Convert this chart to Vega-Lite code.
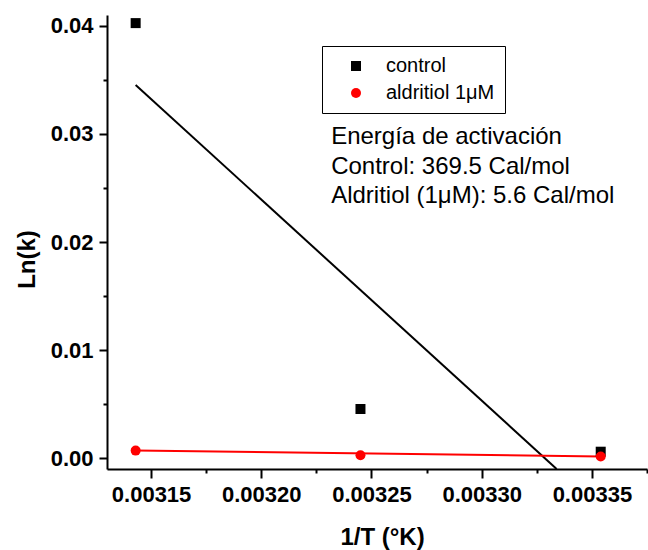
{
  "$schema": "https://vega.github.io/schema/vega-lite/v6.json",
  "width": 540,
  "height": 454,
  "autosize": "none",
  "padding": {"left": 107, "top": 15, "right": 1, "bottom": 81},
  "background": "white",
  "config": {
    "view": {"stroke": null},
    "font": "Liberation Sans",
    "axis": {
      "grid": false,
      "domainColor": "black",
      "domainWidth": 2,
      "tickColor": "black",
      "tickWidth": 2,
      "labelColor": "black",
      "labelFont": "Liberation Sans",
      "labelFontWeight": "bold",
      "labelFontSize": 22,
      "titleFont": "Liberation Sans",
      "titleFontWeight": "bold",
      "titleFontSize": 24,
      "titleColor": "black"
    },
    "legend": {
      "labelFont": "Liberation Sans",
      "labelFontSize": 20,
      "labelColor": "black"
    }
  },
  "datasets": {
    "points": [
      {"invT": 0.003143, "lnk": 0.04025, "series": "control"},
      {"invT": 0.003245, "lnk": 0.00455, "series": "control"},
      {"invT": 0.003354, "lnk": 0.0006, "series": "control"},
      {"invT": 0.003143, "lnk": 0.0007, "series": "aldritiol 1μM"},
      {"invT": 0.003245, "lnk": 0.00028, "series": "aldritiol 1μM"},
      {"invT": 0.003354, "lnk": 0.00015, "series": "aldritiol 1μM"}
    ],
    "fits": [
      {"invT": 0.003143, "lnk": 0.03453, "series": "control"},
      {"invT": 0.003334, "lnk": -0.001, "series": "control"},
      {"invT": 0.003143, "lnk": 0.00071, "series": "aldritiol 1μM"},
      {"invT": 0.003354, "lnk": 0.00016, "series": "aldritiol 1μM"}
    ],
    "note": [
      {"lines": ["Energía de activación", "Control: 369.5 Cal/mol", "Aldritiol (1μM): 5.6 Cal/mol"]}
    ]
  },
  "layer": [
    {
      "data": {"name": "fits"},
      "transform": [{"filter": "datum.series == 'control'"}],
      "mark": {"type": "line", "strokeWidth": 2, "color": "black", "clip": true},
      "encoding": {
        "x": {
          "field": "invT", "type": "quantitative",
          "scale": {"domain": [0.00313, 0.003375], "nice": false, "zero": false},
          "axis": {
            "orient": "bottom",
            "title": "1/T (°K)",
            "values": [0.00315, 0.003175, 0.0032, 0.003225, 0.00325, 0.003275, 0.0033, 0.003325, 0.00335, 0.003375],
            "labelExpr": "abs(datum.value*20000 - round(datum.value*20000)) < 0.01 ? format(datum.value, '.5f') : ''",
            "tickSize": {"condition": {"test": "abs(datum.value*20000 - round(datum.value*20000)) < 0.01", "value": 9}, "value": 4},
            "labelPadding": 6,
            "labelFlush": false,
            "labelOverlap": false,
            "titleX": 275,
            "titleY": 68,
            "titleBaseline": "middle",
            "titleAlign": "center"
          }
        },
        "y": {
          "field": "lnk", "type": "quantitative",
          "scale": {"domain": [-0.001, 0.041], "nice": false, "zero": false},
          "axis": {
            "orient": "left",
            "title": "Ln(k)",
            "values": [0, 0.005, 0.01, 0.015, 0.02, 0.025, 0.03, 0.035, 0.04],
            "labelExpr": "abs(datum.value*100 - round(datum.value*100)) < 0.01 ? format(datum.value, '.2f') : ''",
            "tickSize": {"condition": {"test": "abs(datum.value*100 - round(datum.value*100)) < 0.01", "value": 8}, "value": 4},
            "labelPadding": 6,
            "labelFlush": false,
            "labelOverlap": false,
            "titleX": -80,
            "titleY": 244,
            "titleAngle": 270,
            "titleBaseline": "middle",
            "titleAlign": "center"
          }
        }
      }
    },
    {
      "data": {"name": "fits"},
      "transform": [{"filter": "datum.series != 'control'"}],
      "mark": {"type": "line", "strokeWidth": 2, "color": "red", "clip": true},
      "encoding": {
        "x": {"field": "invT", "type": "quantitative"},
        "y": {"field": "lnk", "type": "quantitative"}
      }
    },
    {
      "data": {"name": "points"},
      "mark": {"type": "point", "filled": true, "opacity": 1, "size": 100},
      "encoding": {
        "x": {"field": "invT", "type": "quantitative"},
        "y": {"field": "lnk", "type": "quantitative"},
        "color": {
          "field": "series", "type": "nominal",
          "scale": {"domain": ["control", "aldritiol 1μM"], "range": ["black", "red"]},
          "legend": {
            "title": null,
            "orient": "none",
            "legendX": 215,
            "legendY": 31,
            "padding": 10,
            "strokeColor": "black",
            "fillColor": "white",
            "symbolSize": 100,
            "symbolOffset": 14,
            "labelOffset": 20,
            "rowPadding": 7,
            "symbolStrokeWidth": 0
          }
        },
        "shape": {
          "field": "series", "type": "nominal",
          "scale": {"domain": ["control", "aldritiol 1μM"], "range": ["square", "circle"]},
          "legend": {
            "title": null,
            "orient": "none",
            "legendX": 215,
            "legendY": 31,
            "padding": 10,
            "strokeColor": "black",
            "fillColor": "white",
            "symbolSize": 100,
            "symbolOffset": 14,
            "labelOffset": 20,
            "rowPadding": 7,
            "symbolStrokeWidth": 0
          }
        }
      }
    },
    {
      "data": {"name": "note"},
      "mark": {
        "type": "text",
        "align": "left",
        "baseline": "alphabetic",
        "fontSize": 24,
        "lineHeight": 29.5,
        "color": "black",
        "font": "Liberation Sans"
      },
      "encoding": {
        "x": {"datum": 0.0032317},
        "y": {"datum": 0.02902},
        "text": {"field": "lines"}
      }
    }
  ]
}
